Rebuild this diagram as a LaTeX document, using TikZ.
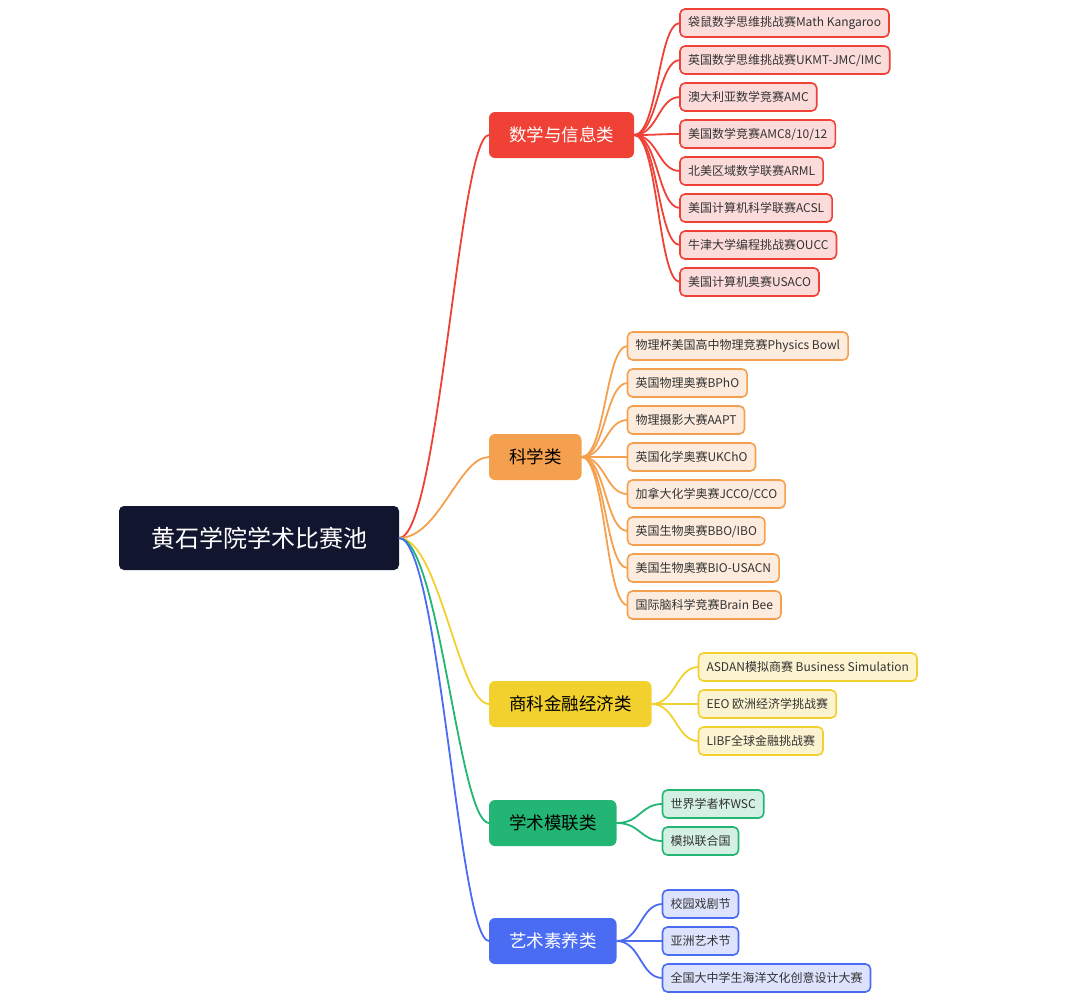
\documentclass[tikz,border=0pt]{standalone}
\usepackage{fontspec}
\setmainfont{Noto Sans CJK SC}
\usepackage{tikz}
\usetikzlibrary{positioning}
\definecolor{rootnavy}{HTML}{12152E}
\definecolor{mathred}{HTML}{EF4136}
\definecolor{mathpink}{HTML}{FCDCDA}
\definecolor{sciorange}{HTML}{F5A04E}
\definecolor{scipeach}{HTML}{FDECDD}
\definecolor{bizyellow}{HTML}{F2D12E}
\definecolor{bizcream}{HTML}{FCF4D0}
\definecolor{mungreen}{HTML}{22B573}
\definecolor{munmint}{HTML}{D4F0E3}
\definecolor{artblue}{HTML}{4A6CF2}
\definecolor{artlilac}{HTML}{DDE3FC}
\definecolor{leafgray}{HTML}{333333}
\tikzstyle{rootbox} = [rectangle, fill=rootnavy, text=white, rounded corners=5pt,
minimum height=64pt, inner xsep=32pt, outer sep=0pt, font=\fontsize{24}{24}\selectfont]
\tikzstyle{catbox} = [rectangle, rounded corners=6pt, minimum height=46pt,
inner xsep=20pt, outer sep=0pt, font=\fontsize{17.5}{17.5}\selectfont]
\tikzstyle{leaf} = [rectangle, draw, line width=1.6pt, rounded corners=5pt,
minimum height=28pt, inner xsep=8pt, outer sep=0pt, text=leafgray,
font=\fontsize{12}{12}\selectfont]
\tikzstyle{link} = [draw, line width=1.8pt]

\begin{document}
\begin{tikzpicture}[x=1pt, y=-1pt]
\useasboundingbox (0,0) rectangle (1080,1002);
    % nodes
\node [rootbox] (root) at (259,538) {黄石学院学术比赛池};
\node [catbox, fill=mathred, text=white, right=90pt of root.east, yshift=403pt] (math) {数学与信息类};
\node [catbox, fill=sciorange, text=black, right=90pt of root.east, yshift=81pt] (sci) {科学类};
\node [catbox, fill=bizyellow, text=black, right=90pt of root.east, yshift=-166pt] (biz) {商科金融经济类};
\node [catbox, fill=mungreen, text=black, right=90pt of root.east, yshift=-285pt] (mun) {学术模联类};
\node [catbox, fill=artblue, text=white, right=90pt of root.east, yshift=-403pt] (art) {艺术素养类};

\node [leaf, draw=mathred, fill=mathpink, right=46pt of math.east, yshift=112pt] (m1) {袋鼠数学思维挑战赛Math Kangaroo};
\node [leaf, draw=mathred, fill=mathpink, below=9pt of m1.south west, anchor=north west] (m2) {英国数学思维挑战赛UKMT-JMC/IMC};
\node [leaf, draw=mathred, fill=mathpink, below=9pt of m2.south west, anchor=north west] (m3) {澳大利亚数学竞赛AMC};
\node [leaf, draw=mathred, fill=mathpink, below=9pt of m3.south west, anchor=north west] (m4) {美国数学竞赛AMC8/10/12};
\node [leaf, draw=mathred, fill=mathpink, below=9pt of m4.south west, anchor=north west] (m5) {北美区域数学联赛ARML};
\node [leaf, draw=mathred, fill=mathpink, below=9pt of m5.south west, anchor=north west] (m6) {美国计算机科学联赛ACSL};
\node [leaf, draw=mathred, fill=mathpink, below=9pt of m6.south west, anchor=north west] (m7) {牛津大学编程挑战赛OUCC};
\node [leaf, draw=mathred, fill=mathpink, below=9pt of m7.south west, anchor=north west] (m8) {美国计算机奥赛USACO};

\node [leaf, draw=sciorange, fill=scipeach, right=46pt of sci.east, yshift=111pt] (s1) {物理杯美国高中物理竞赛Physics Bowl};
\node [leaf, draw=sciorange, fill=scipeach, below=9pt of s1.south west, anchor=north west] (s2) {英国物理奥赛BPhO};
\node [leaf, draw=sciorange, fill=scipeach, below=9pt of s2.south west, anchor=north west] (s3) {物理摄影大赛AAPT};
\node [leaf, draw=sciorange, fill=scipeach, below=9pt of s3.south west, anchor=north west] (s4) {英国化学奥赛UKChO};
\node [leaf, draw=sciorange, fill=scipeach, below=9pt of s4.south west, anchor=north west] (s5) {加拿大化学奥赛JCCO/CCO};
\node [leaf, draw=sciorange, fill=scipeach, below=9pt of s5.south west, anchor=north west] (s6) {英国生物奥赛BBO/IBO};
\node [leaf, draw=sciorange, fill=scipeach, below=9pt of s6.south west, anchor=north west] (s7) {美国生物奥赛BIO-USACN};
\node [leaf, draw=sciorange, fill=scipeach, below=9pt of s7.south west, anchor=north west] (s8) {国际脑科学竞赛Brain Bee};

\node [leaf, draw=bizyellow, fill=bizcream, right=47pt of biz.east, yshift=37pt] (b1) {ASDAN模拟商赛 Business Simulation};
\node [leaf, draw=bizyellow, fill=bizcream, below=9pt of b1.south west, anchor=north west] (b2) {EEO 欧洲经济学挑战赛};
\node [leaf, draw=bizyellow, fill=bizcream, below=9pt of b2.south west, anchor=north west] (b3) {LIBF全球金融挑战赛};

\node [leaf, draw=mungreen, fill=munmint, right=46pt of mun.east, yshift=19pt] (g1) {世界学者杯WSC};
\node [leaf, draw=mungreen, fill=munmint, below=9pt of g1.south west, anchor=north west] (g2) {模拟联合国};

\node [leaf, draw=artblue, fill=artlilac, right=46pt of art.east, yshift=37pt] (a1) {校园戏剧节};
\node [leaf, draw=artblue, fill=artlilac, below=9pt of a1.south west, anchor=north west] (a2) {亚洲艺术节};
\node [leaf, draw=artblue, fill=artlilac, below=9pt of a2.south west, anchor=north west] (a3) {全国大中学生海洋文化创意设计大赛};

%edges
\draw [link, mathred] (root.east) .. controls +(40,0) and +(-30,0) .. (math.west);
\draw [link, sciorange] (root.east) .. controls +(40,0) and +(-30,0) .. (sci.west);
\draw [link, bizyellow] (root.east) .. controls +(40,0) and +(-30,0) .. (biz.west);
\draw [link, mungreen] (root.east) .. controls +(40,0) and +(-30,0) .. (mun.west);
\draw [link, artblue] (root.east) .. controls +(40,0) and +(-30,0) .. (art.west);

\draw [link, mathred] (math.east) .. controls +(24,0) and +(-22,0) .. (m1.west);
\draw [link, mathred] (math.east) .. controls +(24,0) and +(-22,0) .. (m2.west);
\draw [link, mathred] (math.east) .. controls +(24,0) and +(-22,0) .. (m3.west);
\draw [link, mathred] (math.east) .. controls +(24,0) and +(-22,0) .. (m4.west);
\draw [link, mathred] (math.east) .. controls +(24,0) and +(-22,0) .. (m5.west);
\draw [link, mathred] (math.east) .. controls +(24,0) and +(-22,0) .. (m6.west);
\draw [link, mathred] (math.east) .. controls +(24,0) and +(-22,0) .. (m7.west);
\draw [link, mathred] (math.east) .. controls +(24,0) and +(-22,0) .. (m8.west);

\draw [link, sciorange] (sci.east) .. controls +(24,0) and +(-22,0) .. (s1.west);
\draw [link, sciorange] (sci.east) .. controls +(24,0) and +(-22,0) .. (s2.west);
\draw [link, sciorange] (sci.east) .. controls +(24,0) and +(-22,0) .. (s3.west);
\draw [link, sciorange] (sci.east) .. controls +(24,0) and +(-22,0) .. (s4.west);
\draw [link, sciorange] (sci.east) .. controls +(24,0) and +(-22,0) .. (s5.west);
\draw [link, sciorange] (sci.east) .. controls +(24,0) and +(-22,0) .. (s6.west);
\draw [link, sciorange] (sci.east) .. controls +(24,0) and +(-22,0) .. (s7.west);
\draw [link, sciorange] (sci.east) .. controls +(24,0) and +(-22,0) .. (s8.west);

\draw [link, bizyellow] (biz.east) .. controls +(24,0) and +(-22,0) .. (b1.west);
\draw [link, bizyellow] (biz.east) .. controls +(24,0) and +(-22,0) .. (b2.west);
\draw [link, bizyellow] (biz.east) .. controls +(24,0) and +(-22,0) .. (b3.west);

\draw [link, mungreen] (mun.east) .. controls +(24,0) and +(-22,0) .. (g1.west);
\draw [link, mungreen] (mun.east) .. controls +(24,0) and +(-22,0) .. (g2.west);

\draw [link, artblue] (art.east) .. controls +(24,0) and +(-22,0) .. (a1.west);
\draw [link, artblue] (art.east) .. controls +(24,0) and +(-22,0) .. (a2.west);
\draw [link, artblue] (art.east) .. controls +(24,0) and +(-22,0) .. (a3.west);

\end{tikzpicture}
\end{document}
